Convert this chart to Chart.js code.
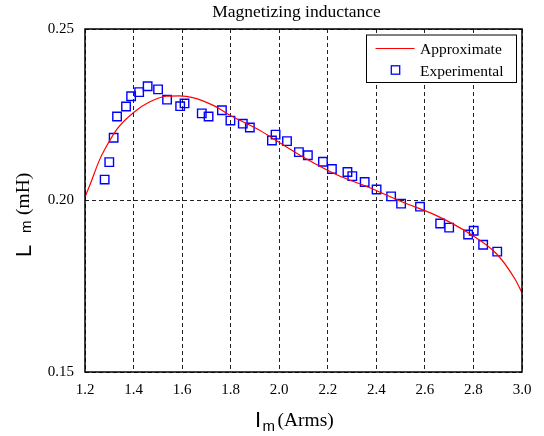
<!DOCTYPE html>
<html lang="en">
<head>
<meta charset="UTF-8" />
<title>Magnetizing inductance</title>
<script src="https://cdn.jsdelivr.net/npm/chart.js"></script>
<style>
  html, body { margin: 0; padding: 0; background: #fff; }
  #wrap { width: 544px; height: 436px; }
</style>
</head>
<body>
<div id="wrap"><canvas id="chart" width="544" height="436"></canvas></div>
<script>
// curve (Im in Arms, Lm in mH)
const approxI = [1.200, 1.225, 1.259, 1.280, 1.334, 1.403, 1.465, 1.534, 1.589, 1.644, 1.726, 1.809,
  1.919, 1.999, 2.098, 2.235, 2.373, 2.510, 2.648, 2.785, 2.896, 2.971, 3.000];
const approxL = [0.2010, 0.2054, 0.2117, 0.2147, 0.2210, 0.2258, 0.2287, 0.2304, 0.2305, 0.2300, 0.2278, 0.2244,
  0.2205, 0.2170, 0.2127, 0.2076, 0.2037, 0.1995, 0.1956, 0.1903, 0.1844, 0.1771, 0.1731];

// measured squares
const expI = [1.281, 1.300, 1.318, 1.332, 1.369, 1.390, 1.423, 1.458, 1.501, 1.538, 1.592, 1.610,
  1.681, 1.709, 1.764, 1.799, 1.850, 1.879, 1.970, 1.985, 2.032, 2.081, 2.118, 2.180, 2.217,
  2.281, 2.301, 2.352, 2.401, 2.461, 2.502, 2.580, 2.663, 2.700, 2.778, 2.801, 2.840, 2.898];
const expL = [0.2061, 0.2112, 0.2183, 0.2245, 0.2274, 0.2304, 0.2316, 0.2333, 0.2324, 0.2294, 0.2275, 0.2283,
  0.2254, 0.2245, 0.2263, 0.2233, 0.2224, 0.2213, 0.2175, 0.2192, 0.2173, 0.2141, 0.2132, 0.2113, 0.2092,
  0.2083, 0.2071, 0.2054, 0.2032, 0.2012, 0.1991, 0.1982, 0.1933, 0.1921, 0.1901, 0.1912, 0.1871, 0.1851];

const xTicks = [1.2, 1.4, 1.6, 1.8, 2.0, 2.2, 2.4, 2.6, 2.8, 3.0];
const yTicks = [0.15, 0.20, 0.25];

const titleText = "Magnetizing inductance";
const seriesNames = ["Approximate", "Experimental"];

const SERIF = '"Liberation Serif", "Times New Roman", serif';
const SANS = '"Liberation Sans", Arial, sans-serif';

const zip = (xs, ys) => xs.map((x, i) => ({ x: x, y: ys[i] }));

// title, legend box, axis labels with subscripts and the closed frame
const overlay = {
  id: "overlay",
  afterDraw(chart) {
    const ctx = chart.ctx;
    const a = chart.chartArea;
    ctx.save();
    ctx.setLineDash([]);
    ctx.strokeStyle = "#000";
    ctx.lineWidth = 1.5;
    ctx.strokeRect(a.left, a.top, a.right - a.left, a.bottom - a.top);

    ctx.fillStyle = "#000";
    ctx.textBaseline = "alphabetic";

    // title
    ctx.font = "17.5px " + SERIF;
    ctx.textAlign = "center";
    ctx.fillText(titleText, 296.5, 17);

    // legend
    const lx = a.right - 155.5, ly = a.top + 6;
    ctx.fillStyle = "#fff";
    ctx.fillRect(lx, ly, 150, 47.5);
    ctx.strokeStyle = "#000";
    ctx.lineWidth = 1;
    ctx.strokeRect(lx, ly, 150, 47.5);
    ctx.strokeStyle = "#ff0000";
    ctx.lineWidth = 1.2;
    ctx.beginPath();
    ctx.moveTo(lx + 9, ly + 13.5);
    ctx.lineTo(lx + 48, ly + 13.5);
    ctx.stroke();
    ctx.strokeStyle = "#0000ff";
    ctx.lineWidth = 1.3;
    ctx.strokeRect(lx + 29 - 4.2, ly + 35 - 4.2, 8.4, 8.4);
    ctx.fillStyle = "#000";
    ctx.textAlign = "left";
    ctx.font = "15.5px " + SERIF;
    ctx.fillText(seriesNames[0], lx + 53.5, ly + 19);
    ctx.fillText(seriesNames[1], lx + 53.5, ly + 41);

    // x axis label: I_m (Arms)
    ctx.font = "22px " + SANS;
    ctx.fillText("I", 255, 427);
    ctx.font = "15px " + SANS;
    ctx.fillText("m", 262.5, 431);
    ctx.font = "19.5px " + SERIF;
    ctx.fillText("(Arms)", 277.5, 426);

    // y axis label: L_m (mH)
    ctx.translate(31, 257);
    ctx.rotate(-Math.PI / 2);
    ctx.font = "22px " + SANS;
    ctx.fillText("L", 0, 0);
    ctx.font = "15px " + SANS;
    ctx.fillText("m", 24, 0);
    ctx.font = "19.5px " + SERIF;
    ctx.fillText("(mH)", 42, -2);
    ctx.restore();
  }
};

new Chart(document.getElementById("chart"), {
  type: "scatter",
  data: {
    datasets: [
      {
        label: seriesNames[0],
        type: "line",
        data: zip(approxI, approxL),
        borderColor: "#ff0000",
        borderWidth: 1.2,
        pointRadius: 0,
        fill: false,
        cubicInterpolationMode: "monotone"
      },
      {
        label: seriesNames[1],
        data: zip(expI, expL),
        pointStyle: "rect",
        pointRadius: 6,
        pointBorderWidth: 1.4,
        pointBorderColor: "#0000ff",
        pointBackgroundColor: "rgba(0,0,0,0)",
        showLine: false
      }
    ]
  },
  options: {
    responsive: false,
    animation: false,
    layout: { padding: { top: 29, right: 22, left: 0, bottom: 0 } },
    plugins: {
      legend: { display: false },
      title: { display: false },
      tooltip: { enabled: false }
    },
    scales: {
      x: {
        type: "linear",
        min: 1.2,
        max: 3.0,
        afterFit(scale) { scale.height = 64; },
        afterBuildTicks(scale) { scale.ticks = xTicks.map(v => ({ value: v })); },
        ticks: {
          color: "#000",
          padding: 9,
          maxRotation: 0,
          font: { family: SERIF, size: 15 },
          callback: v => Number(v).toFixed(1)
        },
        grid: { color: "#222", lineWidth: 1, drawTicks: false },
        border: { display: false, dash: [4, 3] }
      },
      y: {
        type: "linear",
        min: 0.15,
        max: 0.25,
        afterFit(scale) { scale.width = 85; },
        afterBuildTicks(scale) { scale.ticks = yTicks.map(v => ({ value: v })); },
        ticks: {
          color: "#000",
          padding: 11,
          font: { family: SERIF, size: 15 },
          callback: v => Number(v).toFixed(2)
        },
        grid: { color: "#222", lineWidth: 1, drawTicks: false },
        border: { display: false, dash: [4, 3] }
      }
    }
  },
  plugins: [overlay]
});
</script>
</body>
</html>
